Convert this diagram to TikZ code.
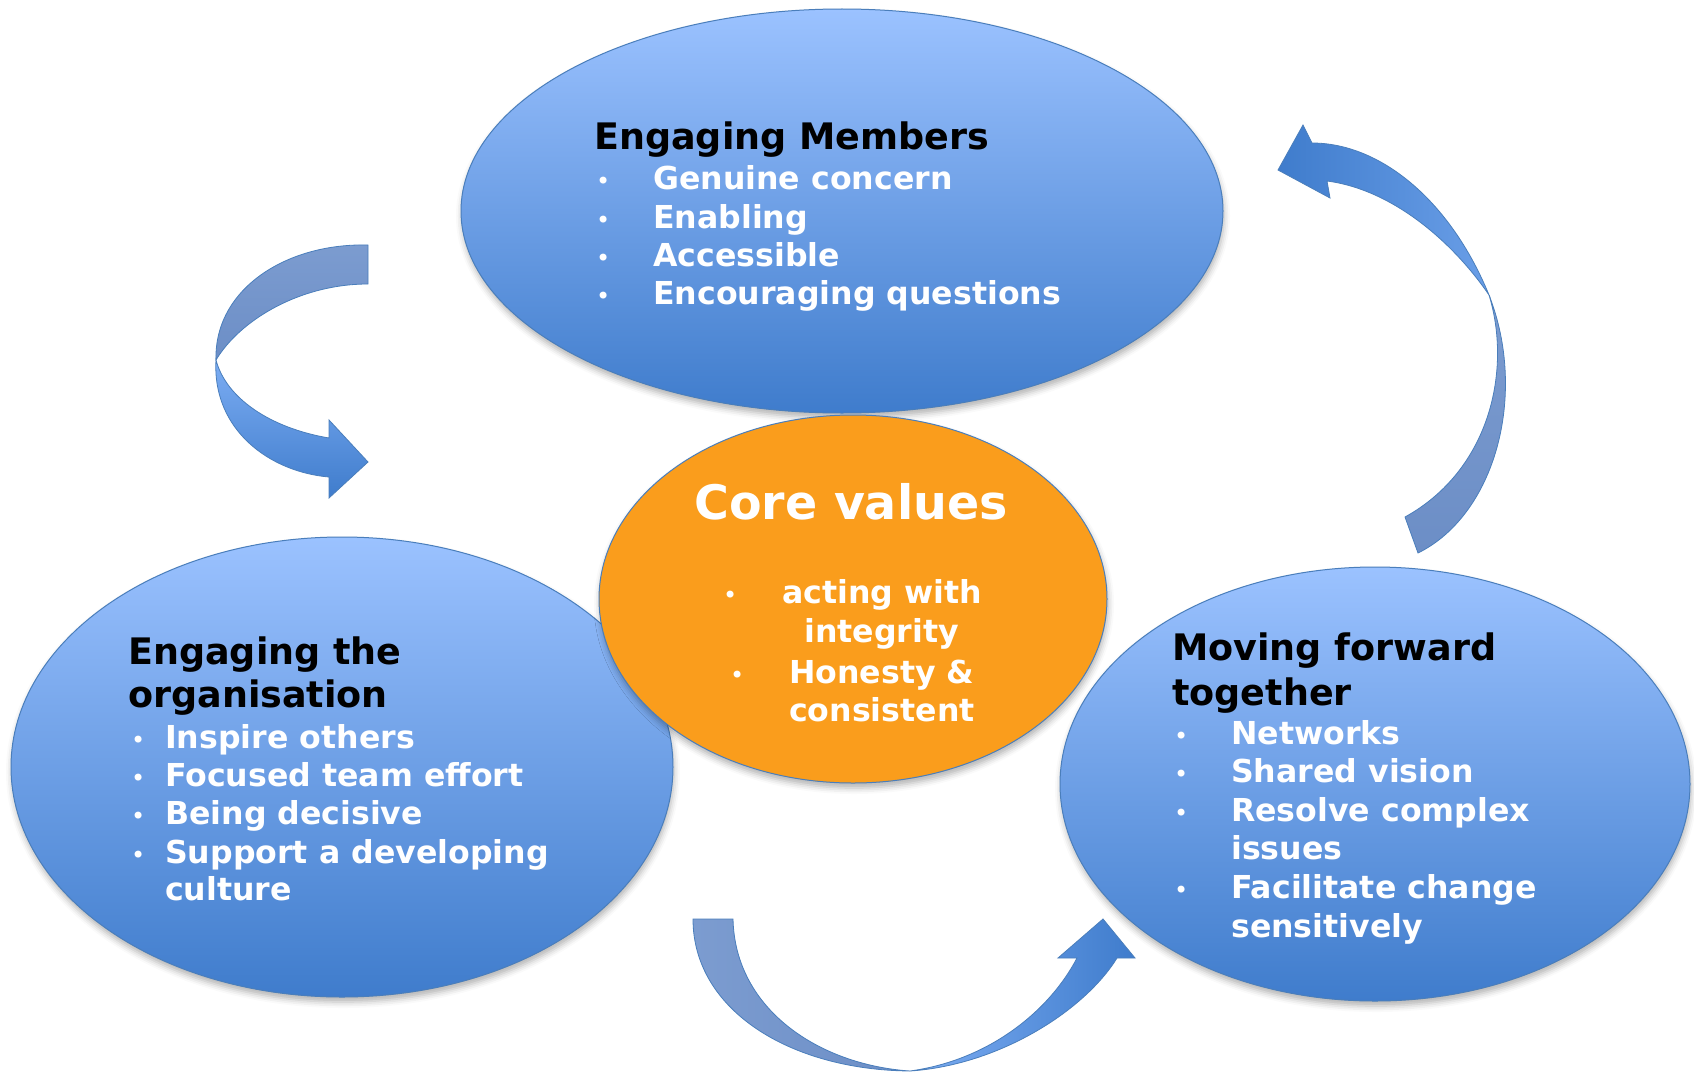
\documentclass[tikz,border=0pt]{standalone}
\usepackage{fontspec}
\setmainfont{DejaVu Sans}
\usetikzlibrary{shapes.geometric,shadows.blur}
\definecolor{bltop}{RGB}{155,194,255}
\definecolor{blbot}{RGB}{63,124,204}
\definecolor{blline}{RGB}{74,126,187}
\definecolor{orng}{RGB}{250,157,28}
\definecolor{backA}{RGB}{124,156,208}
\definecolor{backB}{RGB}{108,142,198}
\definecolor{frontA}{RGB}{124,173,243}
\definecolor{frontB}{RGB}{63,124,204}
\tikzset{
  bubble/.style={ellipse, draw=blline, line width=1pt, inner sep=0pt,
    top color=bltop, bottom color=blbot,
    blur shadow={shadow xshift=1pt, shadow yshift=-5pt, shadow blur radius=6pt, shadow opacity=30}},
  corebubble/.style={ellipse, draw=blline, line width=1pt, inner sep=0pt, fill=orng,
    blur shadow={shadow xshift=1pt, shadow yshift=-5pt, shadow blur radius=6pt, shadow opacity=30}},
  arrowpart/.style={draw=blline, line width=0.8pt, line join=miter},
  ttl/.style={anchor=base west, inner sep=0pt, text=black, font=\bfseries\fontsize{36.5}{40}\selectfont},
  itm/.style={anchor=base west, inner sep=0pt, text=white, font=\bfseries\fontsize{31.6}{36}\selectfont},
  bul/.style={anchor=base west, inner sep=0pt, text=white, font=\fontsize{24}{28}\selectfont},
}
\begin{document}
\begin{tikzpicture}[x=1pt,y=-1pt]
\useasboundingbox (0,0) rectangle (1694,1073);
% ellipses
\node[bubble, minimum width=762pt, minimum height=404pt] (top) at (842,211) {};
\node[bubble, minimum width=662pt, minimum height=460pt] (left) at (342,767) {};
\node[bubble, minimum width=630pt, minimum height=434pt] (right) at (1375,784) {};
\node[corebubble, minimum width=508pt, minimum height=368pt] (core) at (853,599) {};

% arrow 1 (upper left)
\path[arrowpart, top color=backA, bottom color=backB]
  (368,245) .. controls (285,243) and (214,290) .. (216,360)
  .. controls (240,320) and (300,284) .. (368,284) -- cycle;
\path[arrowpart, top color=frontA, bottom color=frontB]
  (216,360) .. controls (212,430) and (270,472) .. (329,477)
  -- (329,498) -- (368,462) -- (329,420) -- (329,438)
  .. controls (270,428) and (226,398) .. (216,360) -- cycle;

% arrow 2 (right)
\path[arrowpart, top color=backA, bottom color=backB]
  (1405,517) -- (1418,553) .. controls (1495,515) and (1528,395) .. (1489,295)
  .. controls (1512,370) and (1490,470) .. (1405,517) -- cycle;
\path[arrowpart, left color=frontB, right color=frontA!70!frontB]
  (1489,295) .. controls (1450,200) and (1380,143) .. (1312,143)
  -- (1303,125) -- (1278,170) -- (1330,198) -- (1327,181)
  .. controls (1395,190) and (1455,245) .. (1489,295) -- cycle;

% arrow 3 (bottom)
\path[arrowpart, left color=backA, right color=backB]
  (693,919) -- (733,919) .. controls (735,1010) and (820,1065) .. (910,1071)
  .. controls (790,1070) and (693,1010) .. (693,919) -- cycle;
\path[arrowpart, left color=frontA, right color=frontB]
  (910,1071) .. controls (1000,1065) and (1085,1010) .. (1117,958)
  -- (1135,958) -- (1103,919) -- (1058,958) -- (1077,958)
  .. controls (1050,1010) and (990,1060) .. (910,1071) -- cycle;

% top texts
\node[ttl] (tT) at (594,149) {Engaging Members};
\node[bul] (tb1) at (596,189) {•}; \node[itm] (ti1) at (653,189) {Genuine concern};
\node[bul] (tb2) at (596,228) {•}; \node[itm] (ti2) at (653,228) {Enabling};
\node[bul] (tb3) at (596,266) {•}; \node[itm] (ti3) at (653,266) {Accessible};
\node[bul] (tb4) at (596,304) {•}; \node[itm] (ti4) at (653,304) {Encouraging questions};

% core texts
\node[anchor=base, inner sep=0pt, text=white, font=\bfseries\fontsize{47.5}{56}\selectfont] (cT) at (851,519) {Core values};
\node[bul] (cb1) at (723,603) {•}; \node[itm] (ci1) at (782,603) {acting with};
\node[itm] (ci1b) at (804,642) {integrity};
\node[bul] (cb2) at (730,683) {•}; \node[itm] (ci2) at (789,683) {Honesty \&};
\node[itm] (ci2b) at (789,721) {consistent};

% left texts
\node[ttl] (lT1) at (128,664) {Engaging the};
\node[ttl] (lT2) at (128,707) {organisation};
\node[bul] (lb1) at (131,748) {•}; \node[itm] (li1) at (165,748) {Inspire others};
\node[bul] (lb2) at (131,786) {•}; \node[itm] (li2) at (165,786) {Focused team effort};
\node[bul] (lb3) at (131,824) {•}; \node[itm] (li3) at (165,824) {Being decisive};
\node[bul] (lb4) at (131,863) {•}; \node[itm] (li4) at (165,863) {Support a developing};
\node[itm] (li4b) at (165,900) {culture};

% right texts
\node[ttl] (rT1) at (1172,660) {Moving forward};
\node[ttl] (rT2) at (1172,705) {together};
\node[bul] (rb1) at (1174,744) {•}; \node[itm] (ri1) at (1231,744) {Networks};
\node[bul] (rb2) at (1174,782) {•}; \node[itm] (ri2) at (1231,782) {Shared vision};
\node[bul] (rb3) at (1174,821) {•}; \node[itm] (ri3) at (1231,821) {Resolve complex};
\node[itm] (ri3b) at (1231,859) {issues};
\node[bul] (rb4) at (1174,898) {•}; \node[itm] (ri4) at (1231,898) {Facilitate change};
\node[itm] (ri4b) at (1231,937) {sensitively};
\end{tikzpicture}
\end{document}
